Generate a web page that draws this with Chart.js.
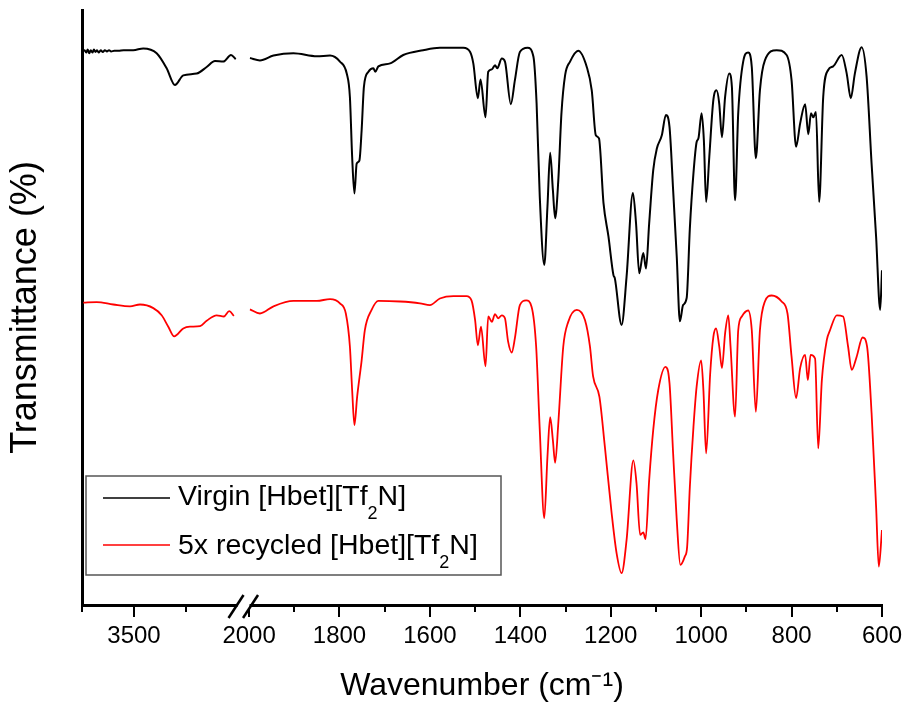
<!DOCTYPE html>
<html>
<head>
<meta charset="utf-8">
<script src="https://cdn.jsdelivr.net/npm/chart.js@4"></script>
<style>
  html, body { margin: 0; padding: 0; background: #fff; }
  #wrap { width: 907px; height: 707px; }
</style>
</head>
<body>
<div id="wrap"><canvas id="irChart"></canvas></div>
<script>
'use strict';

// series names
let seriesNames = ['Virgin [Hbet][Tf\u2082N]', '5x recycled [Hbet][Tf\u2082N]'];
let seriesColors = ['#000000', '#ff0000'];

// x axis ticks (wavenumber, cm-1)
let majorTicks = [3500, 2000, 1800, 1600, 1400, 1200, 1000, 800, 600];
let minorTicks = [4000, 3000, 1900, 1700, 1500, 1300, 1100, 900, 700];

// virgin spectrum (null = axis break, no data)
let virginWn = [3990, 3975, 3960, 3945, 3930, 3915, 3900, 3885, 3870, 3855, 3840, 3820, 3800,
  3780, 3760, 3740, 3720, 3690, 3650, 3600,
  3507, 3411, 3282, 3186, 3106, 3026, 2897, 2801, 2721, 2641, 2567, 2522, 2250,
  1998, 1976, 1946, 1902, 1850, 1821, 1799, 1784, 1777, 1772, 1767, 1762, 1756, 1751, 1746,
  1736, 1725, 1721, 1714, 1688, 1659, 1615, 1578, 1526, 1511, 1504, 1494, 1488, 1477, 1471,
  1463, 1456, 1451, 1441, 1434, 1421, 1412, 1401, 1384, 1371, 1364, 1357, 1347, 1340, 1334,
  1328, 1323, 1316, 1309, 1301, 1290, 1272, 1253, 1242, 1233, 1226, 1216, 1205, 1194, 1191,
  1176, 1165, 1151, 1144, 1137, 1128, 1122, 1115, 1106, 1098, 1087, 1078, 1070, 1062, 1054,
  1047, 1040, 1032, 1025, 1017, 1010, 1006, 999, 994, 989, 982, 973, 966, 960, 954, 947, 938,
  932, 925, 918, 907, 896, 888, 879, 870, 859, 833, 811, 800, 790, 781, 770, 763, 757, 752,
  746, 739, 730, 719, 708, 689, 678, 669, 660, 645, 634, 623, 613, 604, 600];
let virginT = [92.3, 92.5, 92.1, 92.6, 92.0, 92.5, 92.1, 92.6, 92.2, 92.5, 92.1, 92.5, 92.2,
  92.5, 92.3, 92.5, 92.3, 92.4, 92.4, 92.5,
  92.5, 92.8, 92.0, 89.5, 86.7, 88.3, 88.6, 89.7, 90.7, 90.6, 91.7, 91.0, null,
  91.2, 90.8, 91.6, 92.0, 91.5, 91.6, 90.6, 88.6, 84.7, 74.7, 68.6, 73.6, 74.1, 79.2, 86.4,
  88.9, 89.5, 88.9, 89.8, 90.3, 91.7, 92.5, 92.9, 92.9, 92.2, 90.3, 84.5, 87.6, 81.3, 88.9,
  89.3, 90.0, 89.5, 91.1, 90.6, 83.5, 87.5, 92.2, 92.9, 91.4, 83.6, 68.1, 56.7, 66.4, 75.4,
  69.2, 64.5, 70.8, 82.0, 88.3, 90.6, 92.4, 89.7, 85.8, 78.3, 77.8, 67.0, 61.4, 55.0, 54.5,
  46.7, 54.7, 68.7, 63.6, 55.3, 58.7, 56.1, 63.6, 72.5, 76.1, 78.3, 81.7, 79.7, 69.2, 58.1,
  47.3, 50.0, 51.2, 62.8, 72.0, 77.2, 77.8, 82.0, 77.5, 67.2, 74.7, 84.2, 85.8, 83.6, 78.0, 84.7, 88.6,
  86.4, 67.5, 82.0, 90.6, 92.1, 89.7, 74.5, 85.8, 90.8, 92.5, 91.7, 87.5, 76.4, 80.3, 83.5, 78.5, 82.0, 81.3,
  82.2, 67.2, 84.7, 89.2, 89.8, 91.7, 88.6, 84.5, 88.6, 93.0, 88.1, 73.6, 61.4, 49.2, 55.8];

// 5x recycled spectrum
let recycledWn = [3988, 3859, 3699, 3538, 3442, 3314, 3234, 3170, 3113, 3026, 2962, 2865, 2801,
  2705, 2635, 2584, 2539, 2250,
  1998, 1976, 1946, 1902, 1850, 1821, 1799, 1786, 1777, 1772, 1767, 1761, 1751, 1744, 1729,
  1714, 1666, 1622, 1600, 1578, 1548, 1519, 1508, 1500, 1494, 1487, 1477, 1471, 1463, 1456,
  1449, 1441, 1434, 1427, 1419, 1412, 1401, 1387, 1375, 1365, 1357, 1347, 1340, 1334, 1328,
  1323, 1316, 1305, 1294, 1275, 1257, 1246, 1239, 1225, 1213, 1198, 1187, 1176, 1165, 1150,
  1143, 1135, 1128, 1123, 1115, 1106, 1095, 1079, 1070, 1062, 1054, 1046, 1036, 1031, 1025,
  1017, 1010, 1000, 995, 989, 980, 973, 967, 960, 954, 947, 940, 935, 925, 918, 910, 896, 888,
  879, 870, 859, 844, 822, 809, 800, 790, 781, 770, 764, 758, 748, 741, 733, 722, 715, 700,
  686, 675, 667, 656, 643, 633, 623, 613, 607, 600];
let recycledT = [50.4, 50.5, 50.1, 49.8, 50.1, 49.5, 48.3, 46.4, 44.8, 46.1, 46.4, 46.5, 47.4,
  48.3, 48.1, 49.0, 48.2, null,
  49.3, 48.6, 49.8, 50.7, 50.7, 51.0, 50.3, 48.6, 43.1, 35.8, 30.0, 34.7, 40.8, 45.8, 49.2,
  50.7, 50.6, 50.3, 50.0, 51.1, 51.5, 51.5, 50.8, 47.5, 43.3, 46.4, 39.8, 48.1, 47.2, 48.5,
  47.8, 48.3, 47.8, 43.9, 42.1, 44.5, 50.0, 50.8, 49.7, 43.1, 29.2, 14.5, 24.7, 31.3, 27.5,
  23.7, 30.3, 43.1, 47.2, 49.2, 47.5, 43.1, 38.1, 34.7, 26.4, 15.3, 8.6, 5.3, 10.8, 24.1,
  20.3, 11.7, 12.1, 11.0, 20.8, 29.2, 35.8, 39.7, 37.0, 25.3, 14.2, 6.7, 8.1, 9.7, 19.7,
  29.7, 36.4, 40.8, 35.8, 25.3, 38.6, 44.7, 46.1, 43.1, 39.5, 45.3, 48.3, 43.1, 31.4, 45.8, 48.1, 49.1, 45.8,
  32.2, 45.8, 50.6, 51.6, 50.6, 48.6, 41.4, 34.5, 39.5, 41.7, 37.5, 41.7, 41.1, 26.1, 37.5, 44.2, 45.8, 48.3,
  48.1, 43.1, 39.2, 41.4, 44.6, 43.1, 32.0, 16.4, 6.4, 12.5];

// broken axis: 4000-2500 compressed on the left, 2000-600 at full scale
const BREAK_LO = 2000;
const BREAK_HI = 2500;
const BREAK_GAP = 24.6;
const LEFT_FACTOR = 0.23;

function toAxis(w) {
  if (w <= BREAK_LO) return w;
  return BREAK_LO + BREAK_GAP + (w - BREAK_HI) * LEFT_FACTOR;
}

function makePoints(wn, t) {
  let pts = [];
  for (let i = 0; i < wn.length; i++) {
    pts.push({x: toAxis(wn[i]), y: t[i]});
  }
  return pts;
}

const FONT = "'Liberation Sans', Arial, sans-serif";

let extrasPlugin = {
  id: 'irExtras',
  afterDraw(chart) {
    let ctx = chart.ctx;
    let xs = chart.scales.x;
    let area = chart.chartArea;
    ctx.save();

    // minor ticks
    ctx.strokeStyle = '#000';
    ctx.lineWidth = 2;
    for (let i = 0; i < minorTicks.length; i++) {
      let px = Math.round(xs.getPixelForValue(toAxis(minorTicks[i])));
      ctx.beginPath();
      ctx.moveTo(px, area.bottom);
      ctx.lineTo(px, area.bottom + 7);
      ctx.stroke();
    }

    // axis break marks
    let cx = xs.getPixelForValue(BREAK_LO + BREAK_GAP / 2);
    ctx.fillStyle = '#fff';
    ctx.fillRect(cx - 6, area.bottom - 3, 12, 6);
    ctx.lineWidth = 2.5;
    for (let k = 0; k < 2; k++) {
      let bx = cx - 15 + k * 14.5;
      ctx.beginPath();
      ctx.moveTo(bx, area.bottom + 13);
      ctx.lineTo(bx + 15, area.bottom - 10);
      ctx.stroke();
    }

    // legend box
    let box = {left: 86, top: 476, right: 501, bottom: 575};
    ctx.strokeStyle = '#555';
    ctx.lineWidth = 1.5;
    ctx.strokeRect(box.left, box.top, box.right - box.left, box.bottom - box.top);
    let rows = [{lineY: 498, base: 505}, {lineY: 545, base: 554}];
    for (let i = 0; i < seriesNames.length; i++) {
      ctx.strokeStyle = seriesColors[i];
      ctx.lineWidth = 1.5;
      ctx.beginPath();
      ctx.moveTo(103, rows[i].lineY);
      ctx.lineTo(170, rows[i].lineY);
      ctx.stroke();

      let parts = seriesNames[i].split('\u2082');
      let x = 178;
      ctx.fillStyle = '#000';
      ctx.textBaseline = 'alphabetic';
      ctx.textAlign = 'left';
      ctx.font = '28.5px ' + FONT;
      ctx.fillText(parts[0], x, rows[i].base);
      x += ctx.measureText(parts[0]).width;
      if (parts.length > 1) {
        ctx.font = '18px ' + FONT;
        ctx.fillText('2', x, rows[i].base + 14);
        x += ctx.measureText('2').width;
        ctx.font = '28.5px ' + FONT;
        ctx.fillText(parts[1], x, rows[i].base);
      }
    }
    ctx.restore();
  }
};

let ctx = document.getElementById('irChart').getContext('2d');
let chart = new Chart(ctx, {
  type: 'line',
  data: {
    datasets: [{
      label: seriesNames[0],
      data: makePoints(virginWn, virginT),
      borderColor: seriesColors[0],
      borderWidth: 2,
      pointRadius: 0,
      cubicInterpolationMode: 'monotone',
      fill: false
    }, {
      label: seriesNames[1],
      data: makePoints(recycledWn, recycledT),
      borderColor: seriesColors[1],
      borderWidth: 1.8,
      pointRadius: 0,
      cubicInterpolationMode: 'monotone',
      fill: false
    }]
  },
  options: {
    responsive: true,
    maintainAspectRatio: false,
    animation: false,
    devicePixelRatio: 1,
    layout: {padding: {left: 0, right: 25, top: 10, bottom: 0}},
    plugins: {
      legend: {display: false},
      tooltip: {enabled: false}
    },
    scales: {
      x: {
        type: 'linear',
        reverse: true,
        bounds: 'data',
        min: toAxis(600),
        max: toAxis(4000),
        afterBuildTicks: function(scale) {
          scale.ticks = majorTicks.map(w => ({value: toAxis(w)}));
        },
        afterFit: function(scale) {
          scale.height = 102;
        },
        ticks: {
          autoSkip: false,
          maxRotation: 0,
          color: '#000',
          padding: 5,
          font: {size: 24, family: FONT},
          callback: function(value, index) {
            return String(majorTicks[index]);
          }
        },
        grid: {
          display: true,
          drawOnChartArea: false,
          drawTicks: true,
          tickLength: 12,
          color: '#000',
          lineWidth: 2
        },
        border: {display: true, color: '#000', width: 3},
        title: {
          display: true,
          text: 'Wavenumber (cm\u207B\u00B9)',
          color: '#000',
          font: {size: 32, family: FONT},
          padding: {top: 0, bottom: 2}
        }
      },
      y: {
        type: 'linear',
        min: 0,
        max: 99.2,
        afterFit: function(scale) {
          scale.width = 82;
        },
        ticks: {display: false},
        grid: {display: false},
        border: {display: true, color: '#000', width: 3},
        title: {
          display: true,
          text: 'Transmittance (%)',
          color: '#000',
          font: {size: 36, family: FONT},
          padding: {top: 4, bottom: 0}
        }
      }
    }
  },
  plugins: [extrasPlugin]
});
</script>
</body>
</html>
